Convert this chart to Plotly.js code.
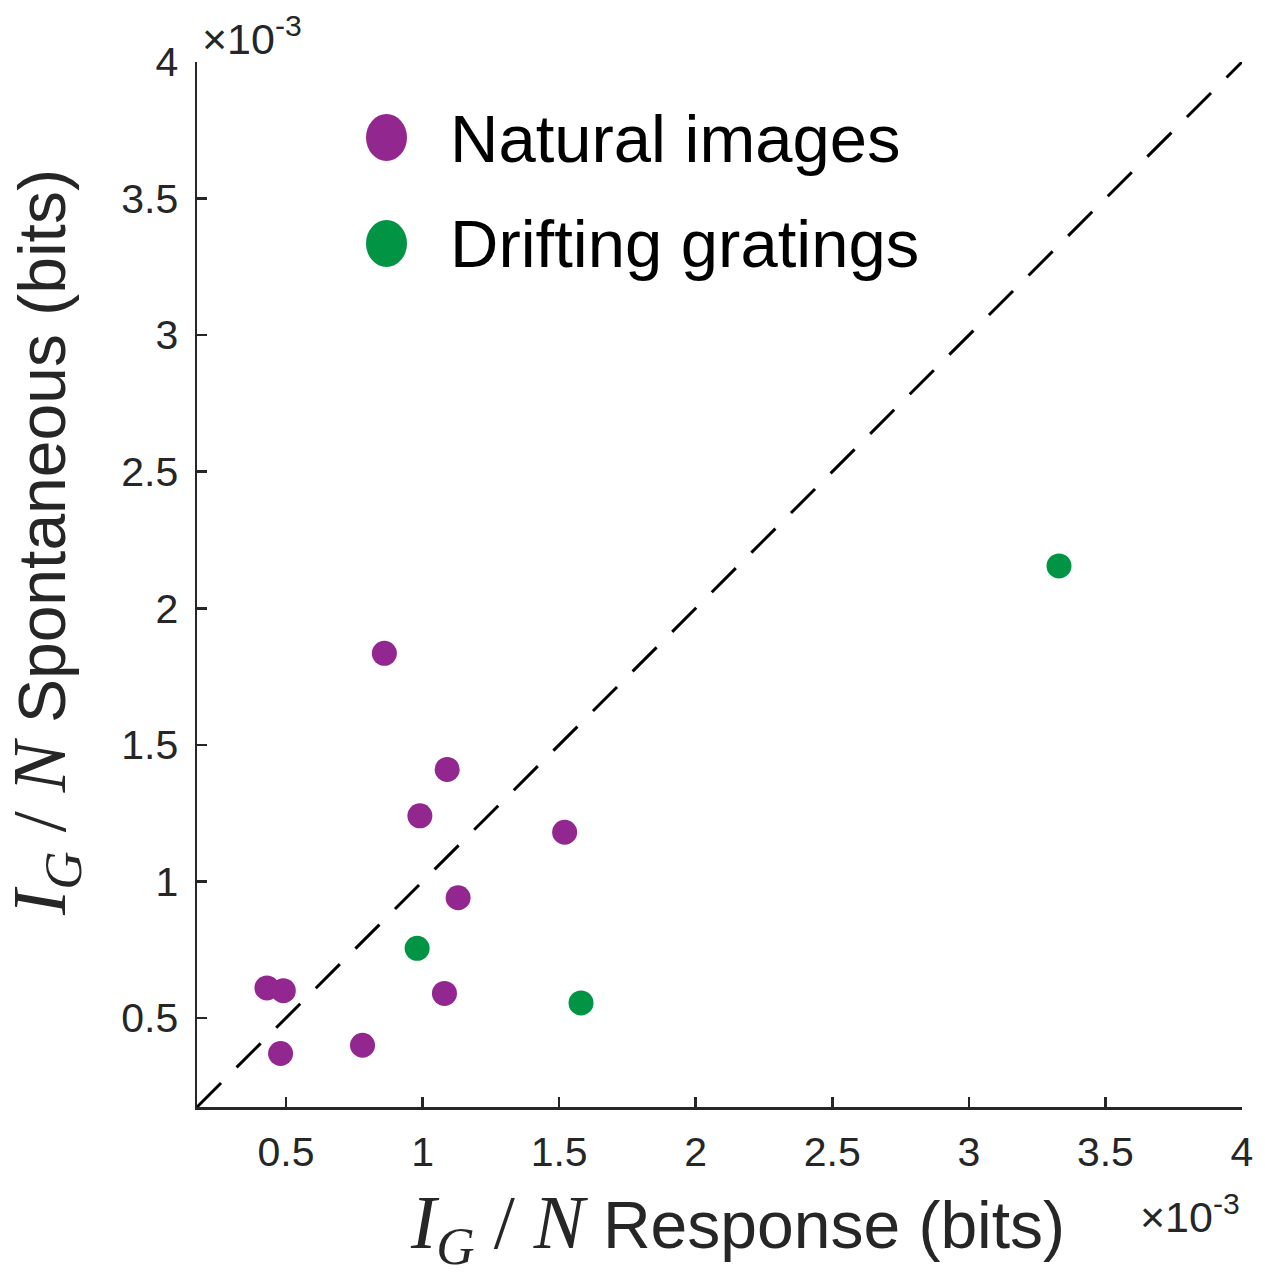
<!DOCTYPE html>
<html><head><meta charset="utf-8">
<script src="https://cdn.plot.ly/plotly-3.0.1.min.js"></script>
<style>body{margin:0;background:#fff}#chart{width:1265px;height:1272px}</style>
</head><body><div id="chart"></div>
<script>
// values in units of 1e-3 bits
const naturalX = [0.43, 0.49, 0.48, 0.78, 0.86, 1.09, 0.99, 1.52, 1.13, 1.08];
const naturalY = [0.61, 0.60, 0.37, 0.40, 1.835, 1.41, 1.24, 1.18, 0.94, 0.59];
const gratingX = [0.98, 1.58, 3.33];
const gratingY = [0.755, 0.555, 2.155];
const axisRange = [0.174, 4];
const tickVals = [0.5, 1, 1.5, 2, 2.5, 3, 3.5, 4];
const tickText = ['0.5', '1', '1.5', '2', '2.5', '3', '3.5', '4'];
const legendNames = ['Natural images', 'Drifting gratings'];
const colors = ['#92278F', '#009444'];

const axisColor = '#262626';
const font = 'Liberation Sans, Arial, sans-serif';
const serif = 'Liberation Serif, DejaVu Serif, serif';

const traces = [
  {x: axisRange, y: axisRange, mode: 'lines', line: {color: '#000', width: 3, dash: '34px,22px'}, showlegend: false, hoverinfo: 'skip'},
  {x: naturalX, y: naturalY, mode: 'markers', name: legendNames[0], marker: {color: colors[0], size: 25}, showlegend: false},
  {x: gratingX, y: gratingY, mode: 'markers', name: legendNames[1], marker: {color: colors[1], size: 25}, showlegend: false}
];

const axisCommon = {
  range: axisRange, tickvals: tickVals, ticktext: tickText,
  ticks: 'inside', ticklen: 10, tickwidth: 2.5, tickcolor: axisColor,
  showline: true, linecolor: axisColor, linewidth: 2.5, mirror: false,
  showgrid: false, zeroline: false,
  tickfont: {family: font, size: 41, color: axisColor}
};

const mathPart = '<span style="font-family:' + serif + ';font-size:76px"><i>I</i><sub><i>G</i></sub> / <i>N</i></span> ';

const layout = {
  width: 1265, height: 1272,
  margin: {l: 197, r: 23, t: 62, b: 165},
  paper_bgcolor: '#fff', plot_bgcolor: '#fff',
  showlegend: false,
  xaxis: Object.assign({}, axisCommon, {ticklabelstandoff: 7}),
  yaxis: Object.assign({}, axisCommon, {ticklabelstandoff: 8}),
  shapes: [
    {type: 'circle', xref: 'paper', yref: 'paper', x0: (366-197)/1045, x1: (407-197)/1045, y0: (1107-114)/1045, y1: (1107-161)/1045, fillcolor: colors[0], line: {width: 0}},
    {type: 'circle', xref: 'paper', yref: 'paper', x0: (366-197)/1045, x1: (407-197)/1045, y0: (1107-220)/1045, y1: (1107-267)/1045, fillcolor: colors[1], line: {width: 0}}
  ],
  annotations: [
    {xref: 'paper', yref: 'paper', x: (448-197)/1045, y: (1107-138)/1045, xanchor: 'left', yanchor: 'middle', text: legendNames[0], showarrow: false, font: {family: font, size: 67, color: '#000'}},
    {xref: 'paper', yref: 'paper', x: (448-197)/1045, y: (1107-243)/1045, xanchor: 'left', yanchor: 'middle', text: legendNames[1], showarrow: false, font: {family: font, size: 67, color: '#000'}},
    {xref: 'paper', yref: 'paper', x: (737-197)/1045, y: (1107-1228)/1045, xanchor: 'center', yanchor: 'middle', text: mathPart + 'Response (bits)', showarrow: false, font: {family: font, size: 66, color: axisColor}},
    {xref: 'paper', yref: 'paper', x: (45-197)/1045, y: (1107-543)/1045, xanchor: 'center', yanchor: 'middle', textangle: -90, text: mathPart + 'Spontaneous (bits)', showarrow: false, font: {family: font, size: 66, color: axisColor}},
    {xref: 'paper', yref: 'paper', x: (200-197)/1045, y: (1107-36)/1045, xanchor: 'left', yanchor: 'middle', text: '×10<sup>-3</sup>', showarrow: false, font: {family: font, size: 43, color: axisColor}},
    {xref: 'paper', yref: 'paper', x: 1, y: (1107-1214)/1045, xanchor: 'right', yanchor: 'middle', text: '×10<sup>-3</sup>', showarrow: false, font: {family: font, size: 43, color: axisColor}}
  ]
};

Plotly.newPlot('chart', traces, layout, {displayModeBar: false, staticPlot: true});
</script>
</body></html>
